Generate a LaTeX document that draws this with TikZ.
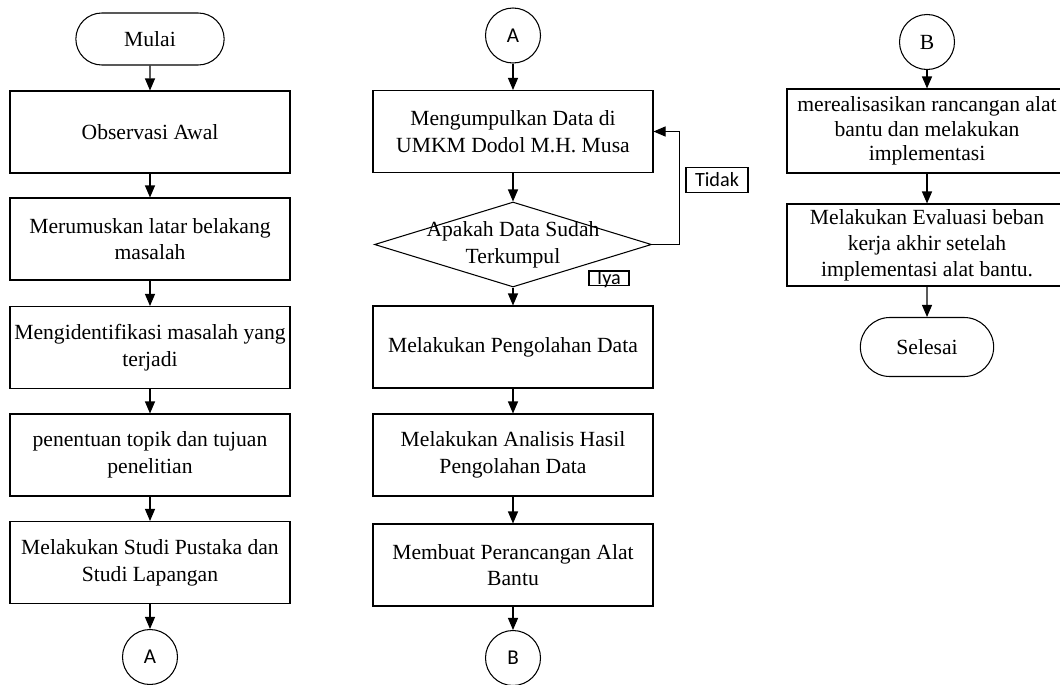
\documentclass[tikz,border=0pt]{standalone}
\usepackage{fontspec}
\setmainfont{Liberation Serif}
\newfontfamily\lblfont{Carlito}
\usetikzlibrary{shapes.geometric,shapes.misc,arrows.meta}

\begin{document}
\begin{tikzpicture}[line width=0.6pt, font=\fontsize{12.3}{15.2}\selectfont,
  every node/.style={draw, align=center},
  procbox/.style={rectangle, minimum width=5.6cm, minimum height=1.64cm, inner sep=2pt},
  term/.style={rounded rectangle, minimum width=3.2cm, minimum height=1.04cm},
  conn/.style={circle, minimum size=1.1cm, inner sep=0pt},
  dia/.style={diamond, minimum width=5.54cm, minimum height=1.7cm, inner sep=0pt},
  tag/.style={rectangle, font=\lblfont\fontsize{11.5}{12}\selectfont, inner sep=1pt},
  arr/.style={-{Triangle[length=2.4mm,width=2mm]}}]
%
\useasboundingbox (0,0) rectangle (21.2,-13.68);
%
% --- Column 1 (Mulai ... A) ---
\node[term] (t1) at (3,-0.78) {Mulai};
\node[procbox] (b1) at (3,-2.64) {Observasi Awal};
\node[procbox] (b2) at (3,-4.78) {Merumuskan latar belakang\\masalah};
\node[procbox] (b3) at (3,-6.95) {Mengidentifikasi masalah yang\\terjadi};
\node[procbox] (b4) at (3,-9.1) {penentuan topik dan tujuan\\penelitian};
\node[procbox] (b5) at (3,-11.25) {Melakukan Studi Pustaka dan\\Studi Lapangan};
\node[conn, font=\lblfont\fontsize{12}{12}\selectfont] (c1) at (3,-13.14) {A};
%
% --- Column 2 (A ... B) ---
\node[conn, font=\lblfont\fontsize{12}{12}\selectfont] (c2) at (10.26,-0.71) {A};
\node[procbox] (b6) at (10.26,-2.63) {Mengumpulkan Data di\\UMKM Dodol M.H. Musa};
\node[dia, label={[draw=none, align=center]center:Apakah Data Sudah\\Terkumpul}] (d1) at (10.26,-4.89) {};
\node[procbox] (b7) at (10.26,-6.94) {Melakukan Pengolahan Data};
\node[procbox] (b8) at (10.26,-9.1) {Melakukan Analisis Hasil\\Pengolahan Data};
\node[procbox] (b9) at (10.26,-11.3) {Membuat Perancangan Alat\\Bantu};
\node[conn, font=\lblfont\fontsize{12}{12}\selectfont] (c3) at (10.26,-13.16) {B};
% --- Decision labels ---
\node[tag, minimum width=1.24cm, minimum height=0.5cm] (l1) at (14.34,-3.6) {Tidak};
\node[tag, minimum width=0.8cm, text height=7pt, text depth=0pt, inner sep=0.5pt] (l2) at (12.18,-5.56) {Iya};
%
% --- Column 3 (B ... Selesai) ---
\node[conn] (c4) at (18.54,-0.84) {B};
\node[procbox, font=\fontsize{12.3}{13.8}\selectfont, minimum height=1.68cm] (b10) at (18.54,-2.62) {merealisasikan rancangan alat\\bantu dan melakukan\\implementasi};
\node[procbox, font=\fontsize{12.3}{14.8}\selectfont] (b11) at (18.54,-4.9) {Melakukan Evaluasi beban\\kerja akhir setelah\\implementasi alat bantu.};
\node[term, minimum width=2.9cm, minimum height=1.18cm] (t2) at (18.54,-6.94) {Selesai};
%
% --- Edges ---
\draw[arr] (t1) -- (b1);
\draw[arr] (b1) -- (b2);
\draw[arr] (b2) -- (b3);
\draw[arr] (b3) -- (b4);
\draw[arr] (b4) -- (b5);
\draw[arr] (b5) -- (c1);
\draw[arr] (c2) -- (b6);
\draw[arr] (b6) -- (d1);
\draw[arr] (d1) -- (b7);
\draw[arr] (d1.east) -- ++(0.54,0) |- (b6.east);
\draw[arr] (b7) -- (b8);
\draw[arr] (b8) -- (b9);
\draw[arr] (b9) -- (c3);
\draw[arr] (c4) -- (b10);
\draw[arr] (b10) -- (b11);
\draw[arr] (b11) -- (t2);
%
\end{tikzpicture}
\end{document}
